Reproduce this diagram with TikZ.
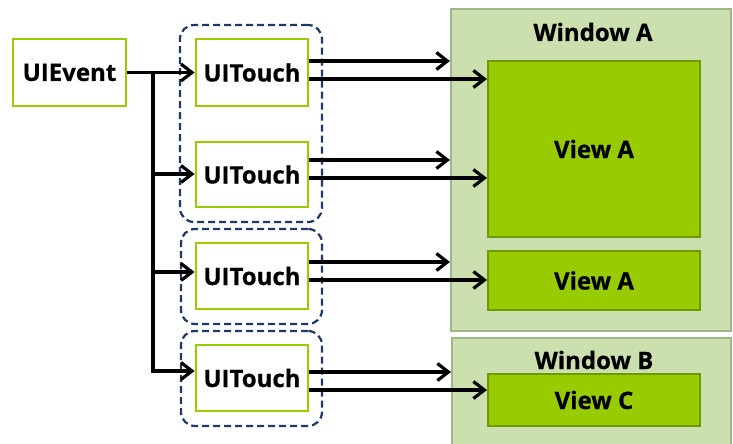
\documentclass[tikz,border=0pt]{standalone}
\usepackage{fontspec}
\setmainfont{Open Sans}[BoldFeatures={FakeBold=0.6}]
\usetikzlibrary{arrows.meta}

\definecolor{leaf}{HTML}{99CC00}
\definecolor{leafdark}{HTML}{6E9A00}
\definecolor{winfill}{HTML}{CCE0AF}
\definecolor{winedge}{HTML}{9DB78B}
\definecolor{navy}{HTML}{1F3864}

\tikzset{
  lbl/.style={font=\bfseries\fontsize{24}{26}\selectfont},
  objbox/.style={draw=leaf, line width=2.8pt, fill=white, inner sep=0pt, lbl},
  groupbox/.style={draw=navy, line width=2.2pt, rounded corners=14pt,
    dash pattern=on 7pt off 4pt},
  winbox/.style={draw=winedge, line width=2pt, fill=winfill, inner sep=0pt},
  viewbox/.style={draw=leafdark, line width=2pt, fill=leaf, inner sep=0pt, lbl},
  title/.style={lbl, inner sep=0pt},
  wire/.style={line width=3.2pt, line cap=rect},
  arr/.style={line width=3.2pt,
    -{Straight Barb[length=11pt,width=17pt,line width=3.2pt]}},
}

\begin{document}
\begin{tikzpicture}[x=1pt,y=-1pt]
  \useasboundingbox (0,0) rectangle (733,444);
  \begin{scope}
  \clip (0,0) rectangle (733,444);

  % windows and their views
  \node[winbox, minimum width=280pt, minimum height=322pt] (winA) at (591,170) {};
  \node[title] (tA) at (593,32) {Window A};
  \node[winbox, minimum width=279pt, minimum height=124pt] (winB) at (591.5,400) {};
  \node[title] (tB) at (594,360) {Window B};
  \node[viewbox, minimum width=212pt, minimum height=176pt] (vA1) at (594,149) {View A};
  \node[viewbox, minimum width=212pt, minimum height=59pt] (vA2) at (594,280.5) {View A};
  \node[viewbox, minimum width=212pt, minimum height=52pt] (vC) at (594,400) {View C};

  % dashed groups of touches
  \node[groupbox, minimum width=142pt, minimum height=197pt] (g1) at (251,123.5) {};
  \node[groupbox, minimum width=141pt, minimum height=95pt] (g2) at (251.5,276.5) {};
  \node[groupbox, minimum width=141pt, minimum height=95pt] (g3) at (251.5,378.5) {};

  % event and touches
  \node[objbox, minimum width=113pt, minimum height=67pt] (ev) at (69.5,72.5) {UIEvent};
  \node[objbox, minimum width=112pt, minimum height=67pt] (t1) at (252,72.5) {UITouch};
  \node[objbox, minimum width=112pt, minimum height=65pt] (t2) at (252,174.5) {UITouch};
  \node[objbox, minimum width=112pt, minimum height=66pt] (t3) at (252,276) {UITouch};
  \node[objbox, minimum width=112pt, minimum height=66pt] (t4) at (252,378) {UITouch};

  % event fan-out
  \coordinate (j1) at (153,72.5);
  \coordinate (j2) at (153,174);
  \coordinate (j3) at (153,272);
  \coordinate (j4) at (153,371);
  \draw[wire] (j1) -- (j4);
  \draw[arr] (ev.east) -- (t1.west);
  \draw[arr] (j2) -- (j2 -| t2.west);
  \draw[arr] (j3) -- (j3 -| t3.west);
  \draw[arr] (j4) -- (j4 -| t4.west);

  % touches to windows and views
  \draw[arr] ([yshift=11.5pt]t1.east) -- ([yshift=11.5pt]t1.east -| winA.west);
  \draw[arr] ([yshift=-6.5pt]t1.east) -- ([yshift=-6.5pt]t1.east -| vA1.west);
  \draw[arr] ([yshift=14.5pt]t2.east) -- ([yshift=14.5pt]t2.east -| winA.west);
  \draw[arr] ([yshift=-3.5pt]t2.east) -- ([yshift=-3.5pt]t2.east -| vA1.west);
  \draw[arr] ([yshift=14pt]t3.east) -- ([yshift=14pt]t3.east -| winA.west);
  \draw[arr] ([yshift=-4pt]t3.east) -- ([yshift=-4pt]t3.east -| vA2.west);
  \draw[arr] ([yshift=6pt]t4.east) -- ([yshift=6pt]t4.east -| winB.west);
  \draw[arr] ([yshift=-12pt]t4.east) -- ([yshift=-12pt]t4.east -| vC.west);
  \end{scope}
\end{tikzpicture}
\end{document}
